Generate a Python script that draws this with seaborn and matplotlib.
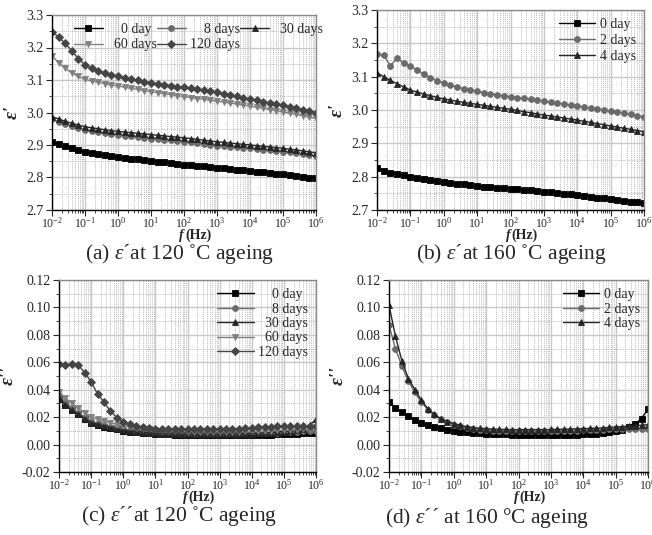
import numpy as np
import pandas as pd
import matplotlib
matplotlib.use("Agg")
import matplotlib.pyplot as plt
import matplotlib.ticker as mticker
import seaborn as sns

# ---------------- data ----------------
freq = [0.01, 0.0158, 0.0251, 0.0398, 0.0631,
        0.1, 0.158, 0.251, 0.398, 0.631,
        1.0, 1.58, 2.51, 3.98, 6.31,
        10.0, 15.8, 25.1, 39.8, 63.1,
        100.0, 158.0, 251.0, 398.0, 631.0,
        1000.0, 1580.0, 2510.0, 3980.0, 6310.0,
        1.0e4, 1.58e4, 2.51e4, 3.98e4, 6.31e4,
        1.0e5, 1.58e5, 2.51e5, 3.98e5, 6.31e5,
        1.0e6]

# (a) real permittivity, 120 C ageing
a_labels = ["0 day", "8 days", "30 days", "60 days", "120 days"]
a_0day = [2.910, 2.903, 2.897, 2.890, 2.884, 2.878, 2.874, 2.871, 2.868, 2.865, 2.862,
          2.860, 2.858, 2.856, 2.853, 2.851, 2.849, 2.847, 2.845, 2.842, 2.840,
          2.838, 2.836, 2.834, 2.832, 2.830, 2.828, 2.826, 2.824, 2.822, 2.820,
          2.818, 2.816, 2.814, 2.812, 2.810, 2.808, 2.805, 2.803, 2.800, 2.797]
a_8days = [2.979, 2.972, 2.965, 2.958, 2.952, 2.946, 2.943, 2.940, 2.937, 2.934, 2.931,
           2.929, 2.927, 2.924, 2.922, 2.920, 2.918, 2.916, 2.914, 2.912, 2.910,
           2.908, 2.906, 2.903, 2.900, 2.898, 2.896, 2.895, 2.893, 2.891, 2.890,
           2.888, 2.886, 2.884, 2.882, 2.880, 2.878, 2.875, 2.873, 2.870, 2.867]
a_30days = [2.987, 2.980, 2.973, 2.967, 2.961, 2.956, 2.953, 2.950, 2.947, 2.944, 2.942,
            2.940, 2.938, 2.936, 2.934, 2.932, 2.930, 2.928, 2.926, 2.924, 2.922,
            2.920, 2.917, 2.915, 2.912, 2.910, 2.908, 2.906, 2.904, 2.902, 2.900,
            2.898, 2.896, 2.894, 2.892, 2.890, 2.887, 2.885, 2.882, 2.879, 2.876]
a_60days = [3.174, 3.153, 3.136, 3.122, 3.111, 3.102, 3.097, 3.093, 3.089, 3.085, 3.081,
            3.078, 3.074, 3.071, 3.067, 3.064, 3.061, 3.058, 3.055, 3.052, 3.049,
            3.046, 3.043, 3.041, 3.038, 3.035, 3.032, 3.029, 3.026, 3.023, 3.020,
            3.016, 3.013, 3.009, 3.006, 3.002, 2.998, 2.994, 2.990, 2.986, 2.982]
a_120days = [3.249, 3.232, 3.213, 3.190, 3.166, 3.146, 3.136, 3.128, 3.121, 3.116, 3.112,
             3.107, 3.103, 3.099, 3.095, 3.092, 3.089, 3.086, 3.083, 3.080, 3.077,
             3.074, 3.071, 3.068, 3.065, 3.062, 3.058, 3.054, 3.050, 3.045, 3.041,
             3.037, 3.033, 3.030, 3.026, 3.022, 3.018, 3.013, 3.009, 3.004, 3.000]

# (b) real permittivity, 160 C ageing
b_labels = ["0 day", "2 days", "4 days"]
b_0day = [2.825, 2.818, 2.812, 2.808, 2.804, 2.800, 2.796, 2.793, 2.789, 2.786, 2.783,
          2.781, 2.779, 2.777, 2.774, 2.772, 2.770, 2.769, 2.767, 2.766, 2.764,
          2.762, 2.760, 2.759, 2.757, 2.755, 2.753, 2.751, 2.749, 2.747, 2.745,
          2.742, 2.740, 2.737, 2.735, 2.732, 2.730, 2.728, 2.725, 2.723, 2.720]
b_2days = [3.168, 3.165, 3.133, 3.155, 3.142, 3.132, 3.120, 3.108, 3.097, 3.087, 3.080,
           3.074, 3.069, 3.064, 3.060, 3.056, 3.052, 3.049, 3.046, 3.043, 3.040,
           3.037, 3.035, 3.032, 3.030, 3.027, 3.024, 3.021, 3.018, 3.015, 3.012,
           3.009, 3.006, 3.003, 3.000, 2.997, 2.994, 2.990, 2.987, 2.983, 2.980]
b_4days = [3.112, 3.100, 3.089, 3.079, 3.069, 3.060, 3.054, 3.048, 3.043, 3.038, 3.033,
           3.030, 3.026, 3.023, 3.020, 3.017, 3.014, 3.011, 3.008, 3.005, 3.002,
           2.999, 2.995, 2.992, 2.988, 2.985, 2.982, 2.979, 2.976, 2.973, 2.970,
           2.966, 2.963, 2.959, 2.956, 2.952, 2.949, 2.945, 2.942, 2.938, 2.935]

# (c) imaginary permittivity, 120 C ageing
c_labels = ["0 day", "8 days", "30 days", "60 days", "120 days"]
c_0day = [0.033, 0.029, 0.025, 0.022, 0.019, 0.016, 0.0145, 0.013, 0.012, 0.011, 0.010,
          0.0095, 0.0090, 0.0086, 0.0082, 0.0078, 0.0076, 0.0074, 0.0072, 0.0071, 0.0070,
          0.0069, 0.0069, 0.0068, 0.0068, 0.0068, 0.0068, 0.0069, 0.0069, 0.0070, 0.0070,
          0.0071, 0.0072, 0.0073, 0.0074, 0.0075, 0.0077, 0.0079, 0.0081, 0.0083, 0.0085]
c_8days = [0.036, 0.031, 0.027, 0.023, 0.020, 0.017, 0.0155, 0.014, 0.0128, 0.0118, 0.011,
           0.0103, 0.0097, 0.0093, 0.0089, 0.0085, 0.0083, 0.0081, 0.0080, 0.0079, 0.0078,
           0.0078, 0.0078, 0.0078, 0.0078, 0.0078, 0.0079, 0.0079, 0.0080, 0.0081, 0.0082,
           0.0083, 0.0085, 0.0086, 0.0088, 0.0090, 0.0092, 0.0094, 0.0096, 0.0098, 0.0100]
c_30days = [0.034, 0.029, 0.025, 0.022, 0.019, 0.016, 0.0148, 0.0136, 0.0125, 0.0114, 0.0105,
            0.0099, 0.0094, 0.0090, 0.0086, 0.0082, 0.0080, 0.0078, 0.0077, 0.0076, 0.0075,
            0.0075, 0.0075, 0.0075, 0.0075, 0.0075, 0.0076, 0.0077, 0.0078, 0.0079, 0.0080,
            0.0082, 0.0084, 0.0087, 0.0091, 0.0095, 0.0100, 0.0105, 0.0115, 0.0140, 0.0185]
c_60days = [0.038, 0.034, 0.030, 0.027, 0.023, 0.020, 0.0185, 0.017, 0.0158, 0.0146, 0.0135,
            0.0128, 0.0121, 0.0115, 0.0110, 0.0105, 0.0102, 0.0100, 0.0098, 0.0096, 0.0095,
            0.0094, 0.0094, 0.0093, 0.0093, 0.0093, 0.0093, 0.0094, 0.0095, 0.0096, 0.0097,
            0.0098, 0.0100, 0.0101, 0.0103, 0.0105, 0.0107, 0.0109, 0.0111, 0.0113, 0.0115]
c_120days = [0.0584, 0.0580, 0.0590, 0.0580, 0.0525, 0.0457, 0.0370, 0.0310, 0.0245, 0.0195, 0.0165,
             0.0150, 0.0138, 0.0130, 0.0122, 0.0116, 0.0113, 0.0111, 0.0110, 0.0110, 0.0110,
             0.0110, 0.0110, 0.0110, 0.0110, 0.0111, 0.0113, 0.0115, 0.0117, 0.0120, 0.0123,
             0.0126, 0.0128, 0.0130, 0.0132, 0.0134, 0.0135, 0.0135, 0.0134, 0.0133, 0.0135]

# (d) imaginary permittivity, 160 C ageing
d_labels = ["0 day", "2 days", "4 days"]
d_0day = [0.031, 0.027, 0.0235, 0.021, 0.018, 0.0155, 0.0140, 0.0128, 0.0118, 0.0108, 0.0100,
          0.0095, 0.0090, 0.0086, 0.0083, 0.0080, 0.0078, 0.0076, 0.0074, 0.0073, 0.0072,
          0.0071, 0.0071, 0.0070, 0.0070, 0.0070, 0.0071, 0.0071, 0.0072, 0.0073, 0.0075,
          0.0077, 0.0080, 0.0084, 0.0090, 0.0098, 0.0108, 0.0125, 0.0150, 0.0190, 0.0260]
d_2days = [0.087, 0.070, 0.057, 0.046, 0.038, 0.031, 0.0255, 0.0215, 0.0185, 0.0162, 0.0145,
           0.0132, 0.0122, 0.0115, 0.0109, 0.0105, 0.0102, 0.0100, 0.0098, 0.0097, 0.0096,
           0.0096, 0.0096, 0.0096, 0.0096, 0.0097, 0.0098, 0.0099, 0.0100, 0.0101, 0.0103,
           0.0104, 0.0106, 0.0108, 0.0110, 0.0112, 0.0114, 0.0116, 0.0117, 0.0117, 0.0116]
d_4days = [0.1017, 0.079, 0.061, 0.048, 0.040, 0.0323, 0.0262, 0.0220, 0.0188, 0.0168, 0.0153,
           0.0140, 0.0131, 0.0124, 0.0119, 0.0116, 0.0113, 0.0111, 0.0110, 0.0109, 0.0109,
           0.0109, 0.0109, 0.0109, 0.0109, 0.0110, 0.0111, 0.0112, 0.0113, 0.0115, 0.0116,
           0.0118, 0.0120, 0.0122, 0.0125, 0.0128, 0.0131, 0.0134, 0.0137, 0.0141, 0.0145]

captions = [r"(a) $\varepsilon$´at 120 ˚C ageing",
            r"(b) $\varepsilon$´at 160 ˚C ageing",
            r"(c) $\varepsilon$´´at 120 ˚C ageing",
            r"(d) $\varepsilon$´´ at 160 °C ageing"]

# ---------------- style ----------------
sns.set_style("ticks")
plt.rcParams["font.family"] = ["Liberation Serif", "DejaVu Serif"]
plt.rcParams["mathtext.fontset"] = "custom"
plt.rcParams["mathtext.rm"] = "Liberation Serif"
plt.rcParams["mathtext.it"] = "Liberation Serif:italic"
plt.rcParams["mathtext.bf"] = "Liberation Serif:bold"
plt.rcParams["axes.unicode_minus"] = True

W, H = 652, 535
fig = plt.figure(figsize=(W / 100, H / 100), dpi=100)

AX_PX = {"a": (52, 15, 316, 210), "b": (377, 10, 644, 210),
         "c": (59, 280, 316, 472), "d": (389, 280, 648, 472)}


def px_axes(left, top, right, bottom):
    return fig.add_axes([left / W, 1 - bottom / H, (right - left) / W, (bottom - top) / H])


ax_a = px_axes(*AX_PX["a"])
ax_b = px_axes(*AX_PX["b"])
ax_c = px_axes(*AX_PX["c"])
ax_d = px_axes(*AX_PX["d"])

style_a = [("s", "#000000", 4.0), ("o", "#6a6a6a", 4.2), ("^", "#262626", 4.6),
           ("v", "#808080", 4.6), ("D", "#454545", 3.8)]
style_b = [("s", "#000000", 4.0), ("o", "#6a6a6a", 4.2), ("^", "#262626", 4.6)]


def pad(lab):
    num, word = lab.split(" ")
    return "\u2007" * (3 - len(num)) + lab + ("\u2009" if word == "day" else "")


def draw(ax, series, labels, styles, padded):
    for vals, lab, (m, c, ms) in zip(series, labels, styles):
        df = pd.DataFrame({"f": freq, "v": vals})
        sns.lineplot(data=df, x="f", y="v", ax=ax, color=c, marker=m, markersize=ms,
                     markeredgecolor=c, markeredgewidth=0.6, linewidth=1.0,
                     label=pad(lab) if padded else lab)


def style_axes(ax, key, ylim, ymajor, yminor, fmt, ylabel, xlab_y):
    ax.set_xscale("log")
    ax.set_xlim(1e-2, 1e6)
    ax.set_ylim(*ylim)
    ax.xaxis.set_major_locator(mticker.FixedLocator([10.0 ** k for k in range(-2, 7)]))
    ax.xaxis.set_major_formatter(mticker.LogFormatterMathtext())
    ax.xaxis.set_minor_locator(mticker.LogLocator(base=10, subs=np.arange(2, 10), numticks=100))
    ax.xaxis.set_minor_formatter(mticker.NullFormatter())
    ax.yaxis.set_major_locator(mticker.MultipleLocator(ymajor))
    ax.yaxis.set_minor_locator(mticker.MultipleLocator(yminor))
    ax.yaxis.set_major_formatter(mticker.FormatStrFormatter(fmt))
    ax.grid(True, which="major", color="#c8c8c8", linewidth=1.0, linestyle="-")
    ax.grid(True, which="minor", color="#bdbdbd", linewidth=0.7, linestyle=(0, (1, 1)))
    ax.set_axisbelow(True)
    ax.tick_params(which="major", direction="out", length=4, width=0.8, labelsize=10,
                   pad=2, top=False, right=False)
    ax.tick_params(axis="x", which="major", labelsize=8.5, pad=0.5)
    ax.tick_params(which="minor", direction="out", length=2, width=0.6, top=False, right=False)
    for s in ["left", "bottom"]:
        ax.spines[s].set_color("black")
        ax.spines[s].set_linewidth(1.0)
    for s in ["top", "right"]:
        ax.spines[s].set_visible(True)
        ax.spines[s].set_color("#8a8a8a")
        ax.spines[s].set_linewidth(1.0)
    # x label "f (Hz)": italic bold f + bold (Hz), as two plain texts
    ax.set_xlabel("")
    left, top, right, bottom = AX_PX[key]
    yy = (bottom - xlab_y) / (bottom - top)
    ax.text(0.5, yy, "f", transform=ax.transAxes, ha="right", va="center",
            fontsize=10, fontweight="bold", fontstyle="italic")
    ax.text(0.505, yy, "(Hz)", transform=ax.transAxes, ha="left", va="center",
            fontsize=10, fontweight="bold")
    ax.set_ylabel(ylabel, fontsize=14, fontweight="bold", fontstyle="italic", labelpad=4)


draw(ax_a, [a_0day, a_8days, a_30days, a_60days, a_120days], a_labels, style_a, True)
draw(ax_b, [b_0day, b_2days, b_4days], b_labels, style_b, False)
draw(ax_c, [c_0day, c_8days, c_30days, c_60days, c_120days], c_labels, style_a, True)
draw(ax_d, [d_0day, d_2days, d_4days], d_labels, style_b, False)

style_axes(ax_a, "a", (2.7, 3.3), 0.1, 0.05, "%.1f", "ε'", 235)
style_axes(ax_b, "b", (2.7, 3.3), 0.1, 0.05, "%.1f", "ε'", 235)
style_axes(ax_c, "c", (-0.02, 0.12), 0.02, 0.01, "%.2f", "ε''", 497)
style_axes(ax_d, "d", (-0.02, 0.12), 0.02, 0.01, "%.2f", "ε''", 497)

leg_kw = dict(frameon=False, fontsize=10, handletextpad=0.3, borderaxespad=0.2)
# row-major order for the 3-column legend: 0, 8, 30 / 60, 120
h, l = ax_a.get_legend_handles_labels()
order = [0, 3, 1, 4, 2]
ax_a.legend([h[i] for i in order], [l[i] for i in order], ncol=3, loc="upper left",
            bbox_to_anchor=(0.05, 1.0), columnspacing=0.0, labelspacing=0.15,
            handlelength=2.1, **leg_kw)
ax_b.legend(loc="upper right", bbox_to_anchor=(1.0, 1.0), labelspacing=0.2,
            handlelength=2.6, **leg_kw)
ax_c.legend(loc="upper right", bbox_to_anchor=(1.0, 1.0), labelspacing=0.1,
            handlelength=2.6, **leg_kw)
ax_d.legend(loc="upper right", bbox_to_anchor=(1.0, 1.0), labelspacing=0.1,
            handlelength=2.6, **leg_kw)

for (cx, cy), cap in zip([(180, 254), (511, 254), (179, 516), (487, 518)], captions):
    fig.text(cx / W, 1 - cy / H, cap, ha="center", va="center", fontsize=15.5)

fig.savefig("out.png", dpi=100)
